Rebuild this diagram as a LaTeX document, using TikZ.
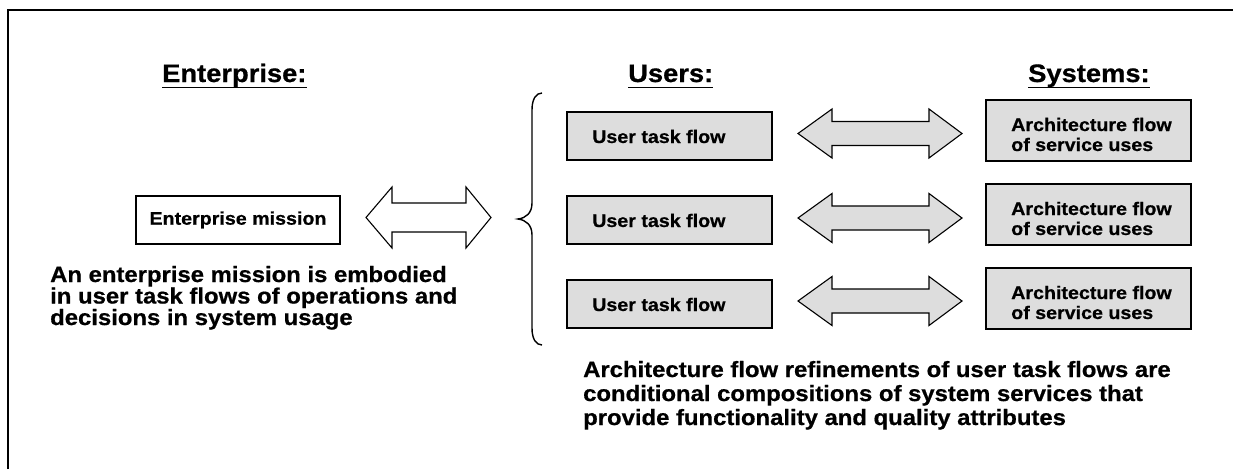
\documentclass[tikz,border=0pt]{standalone}
\usepackage{fontspec}
\setmainfont{Liberation Sans}[FakeStretch=1.08, BoldFeatures={FakeBold=0.7}]
\definecolor{boxgray}{RGB}{221,221,221}
\tikzset{
  heading/.style={inner sep=0pt, anchor=base west, font=\fontsize{25.3}{28}\selectfont\bfseries},
  boxtext/.style={inner sep=0pt, anchor=base west, align=left, font=\fontsize{18.2}{20}\selectfont\bfseries},
  caption/.style={inner sep=0pt, anchor=base west, align=left, font=\fontsize{22.1}{23}\selectfont\bfseries},
  userbox/.style={draw=black, line width=1.4pt, fill=boxgray},
  missionbox/.style={draw=black, line width=1.4pt, fill=white},
  blockarrow/.style={draw=black, line width=1.1pt, line join=miter},
}
\begin{document}
\begin{tikzpicture}[x=1pt,y=-1pt]
\useasboundingbox (0,0) rectangle (1233,469);
% frame (cropped)
\draw[line width=2pt] (8,469) -- (8,10) -- (1233,10);

% headings
\node[heading] (hE) at (162,82) {Enterprise:};
\node[heading] (hU) at (628,82) {Users:};
\node[heading] (hS) at (1028,82) {Systems:};
\foreach \h in {hE,hU,hS}
  \draw[line width=1.8pt] ([yshift=-5.5pt]\h.base west) -- ([yshift=-5.5pt]\h.base east);

% enterprise mission box
\node[missionbox, minimum width=204pt, minimum height=48pt, inner sep=0pt,
      font=\fontsize{18.2}{20}\selectfont\bfseries] (em) at (238,220) {Enterprise mission};

% big white double arrow
\draw[blockarrow, fill=white] (366,217.5) -- (392,187) -- (392,203) -- (466,203) -- (466,187)
  -- (491,217.5) -- (466,248) -- (466,232) -- (392,232) -- (392,248) -- cycle;

% brace
\draw[line width=1.4pt] (542,93) .. controls (536,93) and (532,99) .. (532,110)
  -- (532,203) .. controls (532,213) and (526,218) .. (518,219)
  .. controls (526,220) and (532,225) .. (532,235)
  -- (532,328) .. controls (532,339) and (536,345) .. (542,345);

% user task flow boxes
\foreach \i/\t in {1/112,2/196,3/280}{
  \draw[userbox] (567,\t) rectangle (772,\t+48);
  \node[boxtext] (u\i) at (592,\t+31) {User task flow};
}
% system boxes
\foreach \i/\t in {1/100,2/184,3/268}{
  \draw[userbox] (986,\t) rectangle (1191,\t+61);
  \node[boxtext] (s\i) at (1011,\t+31) {Architecture flow};
  \node[boxtext] (t\i) at (1011,\t+51) {of service uses};
}
% gray double arrows
\foreach \c in {133.5,218,301}{
  \draw[blockarrow, fill=boxgray] (798,\c) -- (832,\c-24.5) -- (832,\c-12) -- (929,\c-12)
    -- (929,\c-24.5) -- (962,\c) -- (929,\c+24.5) -- (929,\c+12) -- (832,\c+12)
    -- (832,\c+24.5) -- cycle;
}

% captions
\node[caption] (c1) at (50,282) {An enterprise mission is embodied};
\node[caption] (c2) at (50,303.5) {in user task flows of operations and};
\node[caption] (c3) at (50,325) {decisions in system usage};
\node[caption] (d1) at (583,377) {Architecture flow refinements of user task flows are};
\node[caption] (d2) at (583,401) {conditional compositions of system services that};
\node[caption] (d3) at (583,425) {provide functionality and quality attributes};
\end{tikzpicture}
\end{document}
